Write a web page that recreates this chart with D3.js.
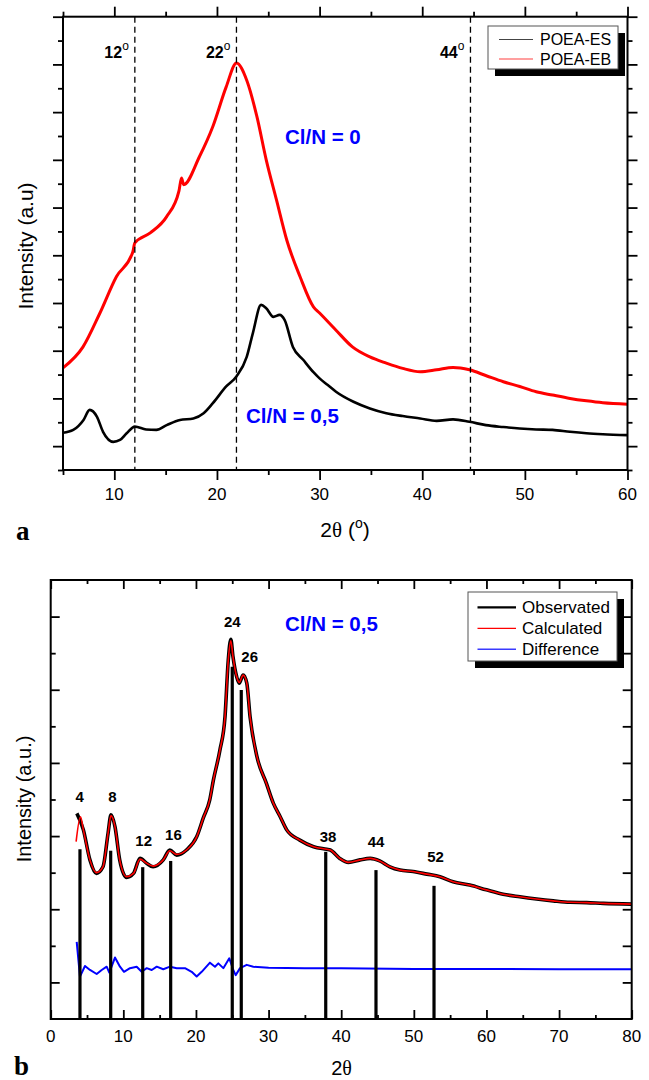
<!DOCTYPE html>
<html>
<head>
<meta charset="utf-8">
<script src="https://cdn.jsdelivr.net/npm/d3@7.9.0/dist/d3.min.js"></script>
<style>
  body { margin: 0; background: #fff; }
  svg { display: block; font-family: Arial, "Liberation Sans", sans-serif; }
</style>
</head>
<body>
<svg id="chart" width="649" height="1080"></svg>
<script>
// ---- panel a : POEA-ES / POEA-EB patterns ----
const esTheta = [5, 6, 7, 7.6, 8.3, 8.9, 9.9, 10.55, 11.2, 12, 13.1, 14.1, 15.1, 16.4, 17.7, 18.7, 19.6, 20.9, 21.9, 22.9, 23.5, 24.3, 24.8, 25.5, 26.1, 26.6, 27.4, 28.4, 29.4, 30, 30.8, 31.6, 33.3, 34.9, 36.5, 38.1, 39.8, 41.4, 43, 44.6, 46.2, 47.9, 49.5, 51.1, 52.7, 54.4, 56, 57.6, 60];
const esInt = [78, 84, 105, 126, 112, 80, 59, 63, 77, 91, 85, 84, 94, 105, 108, 119, 140, 175, 196, 237, 287, 346, 339, 321, 325, 314, 258, 231, 205, 192, 178, 164, 143, 129, 119, 113, 108, 103, 106, 101, 94, 90, 87, 85, 84, 80, 77, 75, 73];

const ebTheta = [5, 6.95, 8.6, 10.2, 11.8, 12, 13.5, 15.1, 16.3, 16.55, 16.75, 18.3, 19.6, 20.9, 21.9, 22.9, 23.9, 24.8, 25.8, 26.8, 28.1, 29.4, 30, 31.6, 33.2, 34.9, 36.5, 38.1, 39.8, 41.4, 43, 44.6, 46.3, 47.9, 49.5, 51.1, 52.7, 54.4, 56, 57.6, 60];
const ebInt = [214, 258, 329, 405, 457, 476, 497, 531, 585, 612, 598, 657, 720, 803, 853, 817, 740, 650, 566, 482, 405, 342, 329, 293, 258, 237, 224, 213, 206, 210, 215, 210, 197, 185, 175, 164, 157, 150, 145, 141, 138];

const markTheta = [12, 21.9, 44.7];
const markLabels = ['12', '22', '44'];
const aSeries = ['POEA-ES', 'POEA-EB'];

// ---- panel b : Rietveld-like fit ----
const obsTheta = [3.6, 4.5, 5.4, 6.3, 7.2, 7.9, 8.3, 8.85, 9.5, 10.45, 11.4, 12.3, 13.2, 14.1, 15.5, 16.4, 17.35, 18.7, 20.1, 21, 21.9, 22.4, 23.3, 24, 24.45, 24.8, 25.1, 25.6, 25.95, 26.5, 27, 27.45, 28.4, 29.7, 30.65, 31.6, 32.5, 34.3, 36.2, 38, 38.5, 39.8, 41, 42.6, 44, 45.3, 46.7, 48.1, 49.9, 51.8, 53.6, 55.4, 57.7, 60, 62.3, 64.6, 66.9, 69.2, 71.5, 73.8, 76.1, 80];
const obsInt = [562, 517, 435, 398, 416, 508, 558, 526, 435, 387, 398, 439, 426, 416, 435, 462, 448, 462, 498, 549, 599, 653, 735, 826, 981, 1038, 990, 936, 918, 940, 918, 826, 717, 644, 590, 553, 517, 489, 471, 464, 462, 439, 428, 435, 439, 432, 416, 407, 403, 396, 389, 375, 366, 353, 341, 334, 328, 323, 319, 318, 316, 314];

const calcTheta = [3.5, 4.1, 4.5, 5.4, 6.3, 7.2, 7.9, 8.3, 8.85, 9.5, 10.45, 11.4, 12.3, 13.2, 14.1, 15.5, 16.4, 17.35, 18.7, 20.1, 21, 21.9, 22.4, 23.3, 24, 24.45, 24.8, 25.1, 25.6, 25.95, 26.5, 27, 27.45, 28.4, 29.7, 30.65, 31.6, 32.5, 34.3, 36.2, 38, 38.5, 39.8, 41, 42.6, 44, 45.3, 46.7, 48.1, 49.9, 51.8, 53.6, 55.4, 57.7, 60, 62.3, 64.6, 66.9, 69.2, 71.5, 73.8, 76.1, 80];
const calcInt = [485, 553, 517, 435, 400, 416, 508, 556, 526, 435, 389, 398, 437, 426, 418, 435, 460, 450, 462, 498, 549, 599, 653, 735, 826, 981, 1034, 990, 936, 920, 940, 918, 826, 717, 644, 590, 553, 517, 489, 471, 464, 462, 439, 428, 435, 439, 432, 416, 407, 403, 396, 389, 375, 366, 353, 341, 334, 328, 323, 319, 318, 316, 314];

const diffTheta = [3.58, 4.03, 4.72, 5.41, 6.33, 7.02, 7.71, 8.07, 8.85, 9.54, 10.09, 10.92, 11.84, 12.53, 13.22, 13.91, 14.6, 15.5, 16.43, 17.35, 18.49, 19.41, 20.1, 20.79, 21.93, 22.62, 23.08, 23.77, 24.59, 25.14, 25.47, 26.07, 26.99, 27.9, 30, 35, 40, 50, 60, 70, 80];
const diffInt = [211, 116, 145, 134, 123, 134, 143, 127, 168, 143, 129, 139, 143, 129, 139, 134, 143, 136, 143, 139, 139, 129, 116, 129, 154, 143, 152, 139, 166, 134, 120, 139, 148, 143, 140, 139, 139, 137, 137, 136, 136];

const refTheta = [4.03, 8.26, 12.67, 16.52, 25.0, 26.24, 37.87, 44.79, 52.78];
const refInt = [464, 460, 415, 432, 963, 899, 457, 407, 364];
const refLabels = ['4', '8', '12', '16', '24', '26', '38', '44', '52'];
const labelTheta = [4.0, 8.5, 12.8, 16.9, 25.0, 27.4, 38.2, 44.8, 53.0];
const labelInt = [594, 594, 473, 489, 1071, 977, 483, 471, 430];
const bSeries = ['Observated', 'Calculated', 'Difference'];

const svg = d3.select('#chart');

// frame with four axes; dir = 1 outward ticks, -1 inward ticks
function drawFrame(g, x, y, o) {
  const [x0, x1] = x.range();
  const [yb, yt] = y.range();
  const axes = [
    [d3.axisBottom, `translate(0,${yb})`, x, o.xMajor, o.xMinor, o.bottomMinor],
    [d3.axisTop, `translate(0,${yt})`, x, o.xMajor, o.xMinor, o.topMinor],
    [d3.axisLeft, `translate(${x0},0)`, y, o.yMajor, o.yMinor, o.leftMinor],
    [d3.axisRight, `translate(${x1},0)`, y, o.yMajor, o.yMinor, o.rightMinor],
  ];
  axes.forEach(([axis, tr, sc, major, minor, minorLen]) => {
    [[major, o.majorLen], [minor, minorLen]].forEach(([vals, len]) => {
      g.append('g')
        .attr('transform', tr)
        .call(axis(sc).tickValues(vals).tickSize(len * o.dir).tickFormat(''))
        .call(a => a.select('.domain').remove())
        .selectAll('line').attr('stroke', '#000').attr('stroke-width', 1.8);
    });
  });
  g.append('rect')
    .attr('x', x0).attr('y', yt)
    .attr('width', x1 - x0).attr('height', yb - yt)
    .attr('fill', 'none').attr('stroke', '#000').attr('stroke-width', 2);
}

function tickLabels(g, x, vals, baseline, size) {
  g.selectAll(null).data(vals).join('text')
    .attr('x', d => x(d)).attr('y', baseline)
    .attr('text-anchor', 'middle').attr('font-size', size)
    .text(d => d);
}

function legend(g, box, rows) {
  g.append('rect')
    .attr('x', box.x + 7).attr('y', box.y + 7)
    .attr('width', box.w).attr('height', box.h).attr('fill', '#000');
  g.append('rect')
    .attr('x', box.x).attr('y', box.y)
    .attr('width', box.w).attr('height', box.h)
    .attr('fill', '#fff').attr('stroke', '#555').attr('stroke-width', 1);
  rows.forEach((r, i) => {
    const ly = box.y + box.first + i * box.step;
    g.append('line')
      .attr('x1', box.x + box.lx0).attr('x2', box.x + box.lx1)
      .attr('y1', ly).attr('y2', ly)
      .attr('stroke', r.color).attr('stroke-width', r.width);
    g.append('text')
      .attr('x', box.x + box.tx).attr('y', ly + box.size * 0.36)
      .attr('font-size', box.size).text(r.name);
  });
}

// ===================== panel a =====================
const xA = d3.scaleLinear().domain([5, 60]).range([63, 627.5]);
const yA = d3.scaleLinear().domain([0, 950]).range([470, 16.7]);
const gA = svg.append('g');

const lineA = d3.line().curve(d3.curveMonotoneX);
gA.append('path')
  .attr('d', lineA(ebTheta.map((t, i) => [xA(t), yA(ebInt[i])])))
  .attr('fill', 'none').attr('stroke', '#ff0000').attr('stroke-width', 3)
  .attr('stroke-linejoin', 'round');
gA.append('path')
  .attr('d', lineA(esTheta.map((t, i) => [xA(t), yA(esInt[i])])))
  .attr('fill', 'none').attr('stroke', '#000').attr('stroke-width', 2.6)
  .attr('stroke-linejoin', 'round');

gA.selectAll('line.mark').data(markTheta).join('line')
  .attr('class', 'mark')
  .attr('x1', d => xA(d)).attr('x2', d => xA(d))
  .attr('y1', yA.range()[1]).attr('y2', yA.range()[0])
  .attr('stroke', '#000').attr('stroke-width', 1.3)
  .attr('stroke-dasharray', '6,4');

markTheta.forEach((t, i) => {
  const tx = gA.append('text')
    .attr('x', xA(t) - 6).attr('y', 57.5)
    .attr('text-anchor', 'end').attr('font-size', 16).attr('font-weight', 'bold');
  tx.append('tspan').text(markLabels[i]);
  tx.append('tspan').attr('font-size', 12).attr('font-weight', 'normal').attr('dy', -8).text('o');
});

drawFrame(gA, xA, yA, {
  dir: 1, majorLen: 10, topMinor: 5, bottomMinor: 5, leftMinor: 5, rightMinor: 5,
  xMajor: d3.range(10, 61, 10), xMinor: d3.range(5, 60, 10),
  yMajor: d3.range(50, 951, 100), yMinor: d3.range(0, 901, 100),
});
tickLabels(gA, xA, d3.range(10, 61, 10), 500, 17);

gA.append('text').attr('x', 285).attr('y', 144)
  .attr('fill', '#0000ff').attr('font-weight', 'bold').attr('font-size', 20.5)
  .text('Cl/N = 0');
gA.append('text').attr('x', 246).attr('y', 423)
  .attr('fill', '#0000ff').attr('font-weight', 'bold').attr('font-size', 20.5)
  .text('Cl/N = 0,5');

legend(gA, { x: 488, y: 26, w: 130, h: 43, first: 13.5, step: 19.5, lx0: 11, lx1: 45, tx: 52, size: 16 }, [
  { name: aSeries[0], color: '#444', width: 1.2 },
  { name: aSeries[1], color: '#ff4040', width: 1.2 },
]);

gA.append('text')
  .attr('transform', 'translate(33,246) rotate(-90)')
  .attr('text-anchor', 'middle').attr('font-size', 21)
  .text('Intensity (a.u)');

const xtA = gA.append('text').attr('x', 345).attr('y', 537)
  .attr('text-anchor', 'middle').attr('font-size', 21);
xtA.append('tspan').text('2');
xtA.append('tspan').attr('font-family', '"Liberation Serif", serif').text('θ');
xtA.append('tspan').text(' (');
xtA.append('tspan').attr('font-size', 14).attr('dy', -9).text('o');
xtA.append('tspan').attr('dy', 9).text(')');

svg.append('text').attr('x', 16).attr('y', 540)
  .attr('font-family', '"Liberation Serif", serif').attr('font-weight', 'bold')
  .attr('font-size', 27).text('a');

// ===================== panel b =====================
const xB = d3.scaleLinear().domain([0, 80]).range([50.7, 631.7]);
const yB = d3.scaleLinear().domain([0, 1200]).range([1019, 580]);
const gB = svg.append('g');
const lineB = d3.line().curve(d3.curveMonotoneX);

gB.append('path')
  .attr('d', lineB(obsTheta.map((t, i) => [xB(t), yB(obsInt[i])])))
  .attr('fill', 'none').attr('stroke', '#000').attr('stroke-width', 3.6)
  .attr('stroke-linejoin', 'round');
gB.append('path')
  .attr('d', lineB(calcTheta.map((t, i) => [xB(t), yB(calcInt[i])])))
  .attr('fill', 'none').attr('stroke', '#ff0000').attr('stroke-width', 1.6);
gB.append('path')
  .attr('d', d3.line()(diffTheta.map((t, i) => [xB(t), yB(diffInt[i])])))
  .attr('fill', 'none').attr('stroke', '#0000ff').attr('stroke-width', 2)
  .attr('stroke-linejoin', 'round');

gB.selectAll('line.ref').data(refTheta).join('line')
  .attr('class', 'ref')
  .attr('x1', d => xB(d)).attr('x2', d => xB(d))
  .attr('y1', yB(0)).attr('y2', (d, i) => yB(refInt[i]))
  .attr('stroke', '#000').attr('stroke-width', 3.2);

gB.selectAll('text.ref').data(refLabels).join('text')
  .attr('class', 'ref')
  .attr('x', (d, i) => xB(labelTheta[i])).attr('y', (d, i) => yB(labelInt[i]))
  .attr('text-anchor', 'middle').attr('font-size', 15).attr('font-weight', 'bold')
  .text(d => d);

drawFrame(gB, xB, yB, {
  dir: -1, majorLen: 9, topMinor: 4, bottomMinor: 4, leftMinor: 5, rightMinor: 9,
  xMajor: d3.range(0, 81, 10), xMinor: d3.range(5, 80, 10),
  yMajor: d3.range(100, 1200, 200), yMinor: d3.range(200, 1200, 200),
});
tickLabels(gB, xB, d3.range(0, 81, 10), 1042, 17);

gB.append('text').attr('x', 285).attr('y', 631)
  .attr('fill', '#0000ff').attr('font-weight', 'bold').attr('font-size', 20.5)
  .text('Cl/N = 0,5');

legend(gB, { x: 468, y: 592, w: 149, h: 69, first: 15.3, step: 21, lx0: 9.5, lx1: 48, tx: 54, size: 17 }, [
  { name: bSeries[0], color: '#000', width: 2.2 },
  { name: bSeries[1], color: '#ff0000', width: 1.2 },
  { name: bSeries[2], color: '#3a3aff', width: 1.5 },
]);

gB.append('text')
  .attr('transform', 'translate(31,799) rotate(-90)')
  .attr('text-anchor', 'middle').attr('font-size', 20)
  .text('Intensity (a.u.)');

const xtB = gB.append('text').attr('x', 341.5).attr('y', 1075)
  .attr('text-anchor', 'middle').attr('font-size', 20);
xtB.append('tspan').text('2');
xtB.append('tspan').attr('font-family', '"Liberation Serif", serif').text('θ');

svg.append('text').attr('x', 14).attr('y', 1075)
  .attr('font-family', '"Liberation Serif", serif').attr('font-weight', 'bold')
  .attr('font-size', 27).text('b');
</script>
</body>
</html>
